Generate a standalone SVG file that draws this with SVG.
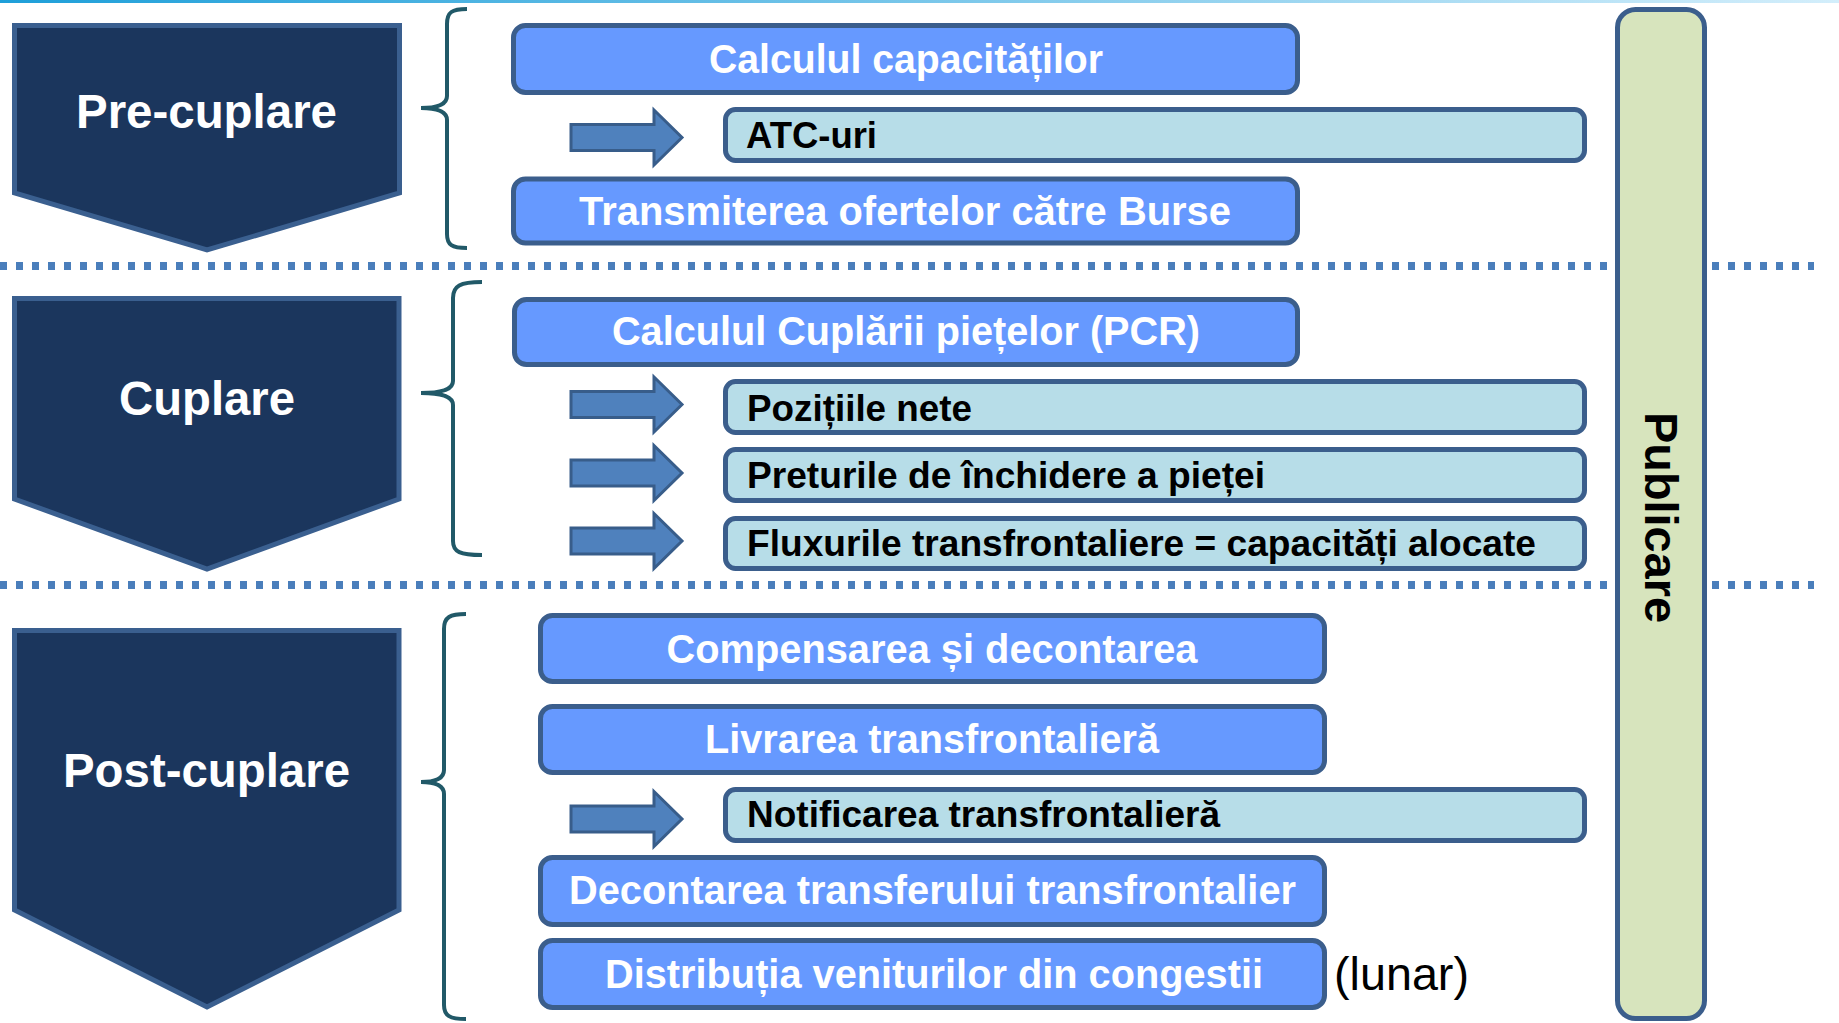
<svg xmlns="http://www.w3.org/2000/svg" width="1839" height="1023" viewBox="0 0 1839 1023">
<defs>
<linearGradient id="topg" x1="0" y1="0" x2="1" y2="0">
<stop offset="0" stop-color="#1e9fd9"/>
<stop offset="1" stop-color="#d3eefb"/>
</linearGradient>
<style>
.chev{fill:#1b365d;stroke:#3a5f8f;stroke-width:5;stroke-linejoin:miter}
.chevt{font-family:"Liberation Sans",Arial,sans-serif;font-weight:bold;font-size:48px;fill:#ffffff;text-anchor:middle}
.mb{fill:#6699ff;stroke:#3b5e8c;stroke-width:5}
.mbt{font-family:"Liberation Sans",Arial,sans-serif;font-weight:bold;font-size:40px;fill:#ffffff;text-anchor:middle}
.lb{fill:#b7dde8;stroke:#3b5e8c;stroke-width:5}
.lbt{font-family:"Liberation Sans",Arial,sans-serif;font-weight:bold;font-size:37px;fill:#000000}
.arr{fill:#4f81bd;stroke:#385d8a;stroke-width:3;stroke-linejoin:miter}
.brace{fill:none;stroke:#215968;stroke-width:4;stroke-linecap:butt}
.dots{stroke:#4a7ebb;stroke-width:8;stroke-dasharray:7 9;fill:none}
</style>
</defs>
<rect x="0" y="0" width="1839" height="1023" fill="#ffffff"/>
<rect x="0" y="0" width="1839" height="3" fill="url(#topg)"/>

<g id="separators">
<line class="dots" x1="0" y1="266" x2="1814" y2="266"/>
<line class="dots" x1="0" y1="585" x2="1814" y2="585"/>
</g>

<g id="publicare">
<rect x="1617.5" y="9.5" width="87" height="1009" rx="18" fill="#d7e4bd" stroke="#3b5e8c" stroke-width="5"/>
<text transform="translate(1645,412) rotate(90)" font-family="'Liberation Sans',Arial,sans-serif" font-weight="bold" font-size="46" fill="#000" textLength="211" lengthAdjust="spacingAndGlyphs">Publicare</text>
</g>

<g id="pre-cuplare">
<polygon class="chev" points="14.5,25.5 399.5,25.5 399.5,193 207,250 14.5,193"/>
<text class="chevt" x="206.5" y="128" textLength="261" lengthAdjust="spacingAndGlyphs">Pre-cuplare</text>
</g>
<g id="cuplare">
<polygon class="chev" points="14.5,298.5 399,298.5 399,499 207,569 14.5,499"/>
<text class="chevt" x="207" y="415" textLength="176" lengthAdjust="spacingAndGlyphs">Cuplare</text>
</g>
<g id="post-cuplare">
<polygon class="chev" points="14.5,630.5 399,630.5 399,910 207,1007 14.5,910"/>
<text class="chevt" x="206.5" y="787" textLength="287" lengthAdjust="spacingAndGlyphs">Post-cuplare</text>
</g>

<g id="braces">
<path class="brace" d="M467 9 C452 9 447 12 447 24 L447 96 C447 104 439 108 421 108 C439 108 447 112 447 120 L447 234 C447 245 452 248 467 248"/>
<path class="brace" d="M482 282 C460 282 453 286 453 298 L453 381 C453 389 444 393 421 393 C444 393 453 397 453 405 L453 541 C453 552 460 555 482 555"/>
<path class="brace" d="M466 614 C450 614 444 617 444 629 L444 770 C444 778 437 782 421 782 C437 782 444 786 444 794 L444 1005 C444 1016 450 1019 466 1019"/>
</g>

<g id="connectors">
<polygon class="arr" points="571,124.5 654,124.5 654,110 682,137.5 654,165 654,150.5 571,150.5"/>
<polygon class="arr" points="571,391.5 654,391.5 654,377 682,404.5 654,432 654,417.5 571,417.5"/>
<polygon class="arr" points="571,460 654,460 654,445.5 682,473 654,500.5 654,486 571,486"/>
<polygon class="arr" points="571,528 654,528 654,513.5 682,541 654,568.5 654,554 571,554"/>
<polygon class="arr" points="571,806 654,806 654,791.5 682,819 654,846.5 654,832 571,832"/>
</g>

<g id="calcul-capacitati">
<rect class="mb" x="513.5" y="25.5" width="784" height="67" rx="12"/>
<text class="mbt" x="906" y="73" textLength="394" lengthAdjust="spacingAndGlyphs">Calculul capacităților</text>
</g>
<g id="atc">
<rect class="lb" x="725.5" y="109.5" width="859" height="51" rx="10"/>
<text class="lbt" x="746" y="148" textLength="131" lengthAdjust="spacingAndGlyphs">ATC-uri</text>
</g>
<g id="transmiterea">
<rect class="mb" x="513.5" y="179" width="784" height="64" rx="12"/>
<text class="mbt" x="905" y="225" textLength="652" lengthAdjust="spacingAndGlyphs">Transmiterea ofertelor către Burse</text>
</g>

<g id="calcul-cuplare">
<rect class="mb" x="514.5" y="299.5" width="783" height="65" rx="12"/>
<text class="mbt" x="906" y="345" textLength="588" lengthAdjust="spacingAndGlyphs">Calculul Cuplării piețelor (PCR)</text>
</g>
<g id="pozitii">
<rect class="lb" x="725.5" y="381.5" width="859" height="51" rx="10"/>
<text class="lbt" x="747" y="421" textLength="225" lengthAdjust="spacingAndGlyphs">Pozițiile nete</text>
</g>
<g id="preturi">
<rect class="lb" x="725.5" y="449.5" width="859" height="51" rx="10"/>
<text class="lbt" x="747" y="488" textLength="518" lengthAdjust="spacingAndGlyphs">Preturile de închidere a pieței</text>
</g>
<g id="fluxuri">
<rect class="lb" x="725.5" y="518.5" width="859" height="50" rx="10"/>
<text class="lbt" x="747" y="556" textLength="789" lengthAdjust="spacingAndGlyphs">Fluxurile transfrontaliere = capacități alocate</text>
</g>

<g id="compensarea">
<rect class="mb" x="540.5" y="615.5" width="784" height="66" rx="12"/>
<text class="mbt" x="932" y="663" textLength="531" lengthAdjust="spacingAndGlyphs">Compensarea și decontarea</text>
</g>
<g id="livrarea">
<rect class="mb" x="540.5" y="706.5" width="784" height="66" rx="12"/>
<text class="mbt" x="932" y="753" textLength="454" lengthAdjust="spacingAndGlyphs">Livrare<tspan font-size="36">a</tspan> transfrontalieră</text>
</g>
<g id="notificarea">
<rect class="lb" x="725.5" y="789.5" width="859" height="51" rx="10"/>
<text class="lbt" x="747" y="827" textLength="473" lengthAdjust="spacingAndGlyphs">Notificarea transfrontalieră</text>
</g>
<g id="decontarea">
<rect class="mb" x="540.5" y="857.5" width="784" height="67" rx="12"/>
<text class="mbt" x="932.5" y="904" textLength="727" lengthAdjust="spacingAndGlyphs">Decontarea transferului transfrontalier</text>
</g>
<g id="distributia">
<rect class="mb" x="540.5" y="940.5" width="784" height="67" rx="12"/>
<text class="mbt" x="934" y="988" textLength="658" lengthAdjust="spacingAndGlyphs">Distribuția veniturilor din congestii</text>
<text x="1334" y="990" font-family="'Liberation Sans',Arial,sans-serif" font-size="46" fill="#000" textLength="135" lengthAdjust="spacingAndGlyphs">(lunar)</text>
</g>
</svg>
